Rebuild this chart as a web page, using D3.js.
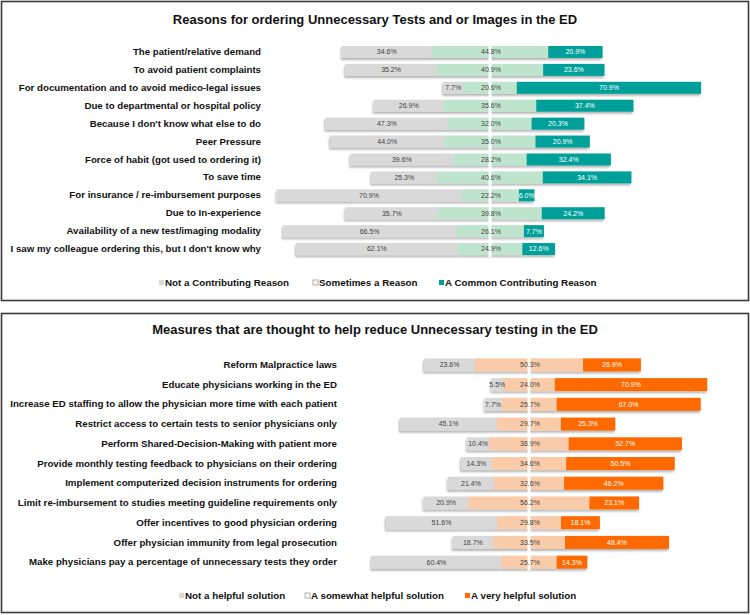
<!DOCTYPE html>
<html>
<head>
<meta charset="utf-8">
<script src="https://cdn.jsdelivr.net/npm/d3@7"></script>
<style>
  body { margin: 0; background: #fff; }
  svg { font-family: "Liberation Sans", Arial, sans-serif; }
</style>
</head>
<body>
<svg id="drawing_region"></svg>
<script>
// ---- data: panel 1 ----
const reasons = [
    "The patient/relative demand",
    "To avoid patient complaints",
    "For documentation and to avoid medico-legal issues",
    "Due to departmental or hospital policy",
    "Because I don't know what else to do",
    "Peer Pressure",
    "Force of habit (got used to ordering it)",
    "To save time",
    "For insurance / re-imbursement purposes",
    "Due to In-experience",
    "Availability of a new test/imaging modality",
    "I saw my colleague ordering this, but I don't know why"
];
const notReason       = [34.6, 35.2, 7.7, 26.9, 47.3, 44.0, 39.6, 25.3, 70.9, 35.7, 66.5, 62.1];
const sometimesReason = [44.8, 40.9, 20.6, 35.6, 32.0, 35.0, 28.2, 40.6, 22.2, 39.8, 26.1, 24.9];
const commonReason    = [20.9, 23.6, 70.9, 37.4, 20.3, 20.9, 32.4, 34.1, 6.0, 24.2, 7.7, 12.6];
const reasonLegend = ["Not a Contributing Reason", "Sometimes a Reason", "A Common Contributing Reason"];

// ---- data: panel 2 ----
const measures = [
    "Reform Malpractice laws",
    "Educate physicians working in the ED",
    "Increase ED staffing to allow the physician more time with each patient",
    "Restrict access to certain tests to senior physicians only",
    "Perform Shared-Decision-Making with patient more",
    "Provide monthly testing feedback to physicians on their ordering",
    "Implement computerized decision instruments for ordering",
    "Limit re-imbursement to studies meeting guideline requirements only",
    "Offer incentives to good physician ordering",
    "Offer physician immunity from legal prosecution",
    "Make physicians pay a percentage of unnecessary tests they order"
];
const notHelpful      = [23.6, 5.5, 7.7, 45.1, 10.4, 14.3, 21.4, 20.9, 51.6, 18.7, 60.4];
const somewhatHelpful = [50.3, 24.0, 25.7, 29.7, 36.9, 34.6, 32.6, 56.2, 29.8, 33.5, 25.7];
const veryHelpful     = [26.9, 70.9, 67.0, 25.3, 52.7, 50.5, 46.2, 23.1, 18.1, 48.4, 14.3];
const measureLegend = ["Not a helpful solution", "A somewhat helpful solution", "A very helpful solution"];

const svg = d3.select('#drawing_region')
    .attr('width', 750)
    .attr('height', 615);

const defs = svg.append('defs');
defs.append('filter')
    .attr('id', 'shadow')
    .attr('x', '-10%').attr('y', '-30%')
    .attr('width', '120%').attr('height', '180%')
    .append('feDropShadow')
    .attr('dx', -1).attr('dy', 2)
    .attr('stdDeviation', 0.8)
    .attr('flood-color', '#000')
    .attr('flood-opacity', 0.3);

function drawPanel(cfg) {
    const g = svg.append('g');

    // frame
    g.append('rect')
        .attr('x', cfg.box[0]).attr('y', cfg.box[1])
        .attr('width', cfg.box[2]).attr('height', cfg.box[3])
        .attr('fill', '#fff')
        .attr('stroke', '#3a3a3a')
        .attr('stroke-width', 1.6);

    g.append('text')
        .attr('x', 375)
        .attr('y', cfg.titleY)
        .attr('text-anchor', 'middle')
        .attr('font-size', '13px')
        .attr('font-weight', 'bold')
        .attr('fill', '#111')
        .text(cfg.title);

    const yscale = d3.scaleBand()
        .domain(cfg.cats)
        .range(cfg.yRange)
        .paddingInner(cfg.pad)
        .paddingOuter(cfg.pad / 2);

    const xscale = d3.scaleLinear()
        .domain([-100, 100])
        .range([cfg.center - 100 * cfg.k, cfg.center + 100 * cfg.k]);

    // category labels
    const yaxis = d3.axisLeft(yscale).tickSize(0).tickPadding(0);
    const axisG = g.append('g')
        .attr('transform', `translate(${cfg.labelX},0)`)
        .call(yaxis);
    axisG.select('.domain').remove();
    axisG.selectAll('text')
        .attr('font-family', '"Liberation Sans", Arial, sans-serif')
        .attr('font-size', '9.7px')
        .attr('font-weight', 'bold')
        .attr('fill', '#111');

    const rows = cfg.cats.map((c, i) => ({
        cat: c, a: cfg.s1[i], b: cfg.s2[i], c3: cfg.s3[i]
    }));

    const segs = [];
    rows.forEach(d => {
        segs.push({cat: d.cat, x0: -d.b / 2 - d.a, x1: -d.b / 2, v: d.a, k: 0});
        segs.push({cat: d.cat, x0: -d.b / 2, x1: d.b / 2, v: d.b, k: 1});
        segs.push({cat: d.cat, x0: d.b / 2, x1: d.b / 2 + d.c3, v: d.c3, k: 2});
    });

    const rowG = g.append('g').selectAll('g')
        .data(rows)
        .join('g')
        .attr('filter', 'url(#shadow)');

    rowG.selectAll('rect')
        .data(d => segs.filter(s => s.cat === d.cat))
        .join('rect')
        .attr('x', s => xscale(s.x0))
        .attr('y', s => yscale(s.cat))
        .attr('width', s => xscale(s.x1) - xscale(s.x0))
        .attr('height', yscale.bandwidth())
        .attr('fill', s => cfg.colors[s.k]);

    // center line
    g.append('line')
        .attr('x1', xscale(0)).attr('x2', xscale(0))
        .attr('y1', yscale(cfg.cats[0]) - 2)
        .attr('y2', yscale(cfg.cats[cfg.cats.length - 1]) + yscale.bandwidth() + 2)
        .attr('stroke', '#fff')
        .attr('stroke-width', 3);

    g.append('g').selectAll('text')
        .data(segs)
        .join('text')
        .attr('x', s => s.k === 1 ? xscale(0) + 1 : xscale((s.x0 + s.x1) / 2))
        .attr('y', s => yscale(s.cat) + yscale.bandwidth() / 2)
        .attr('dy', '0.35em')
        .attr('text-anchor', 'middle')
        .attr('font-size', '7px')
        .attr('fill', s => s.k === 2 ? '#fff' : '#444')
        .text(s => s.v.toFixed(1) + '%');

    // legend
    const leg = g.append('g').selectAll('g')
        .data(cfg.legend)
        .join('g')
        .attr('transform', (d, i) => `translate(${cfg.legendX[i]},${cfg.legendY})`);
    leg.append('rect')
        .attr('x', -6).attr('y', -3)
        .attr('width', 5).attr('height', 5)
        .attr('fill', (d, i) => i === 1 ? '#fff' : cfg.colors[i])
        .attr('stroke', (d, i) => i === 1 ? '#999' : 'none')
        .attr('stroke-width', 0.8);
    leg.append('text')
        .attr('x', 0)
        .attr('y', 0)
        .attr('dy', '0.35em')
        .attr('font-size', '9.8px')
        .attr('font-weight', 'bold')
        .attr('fill', '#111')
        .text(d => d);
}

drawPanel({
    box: [1.5, 1.5, 747, 299],
    title: "Reasons for ordering Unnecessary Tests and or Images in the ED",
    titleY: 24,
    cats: reasons, s1: notReason, s2: sometimesReason, s3: commonReason,
    yRange: [43, 258],
    pad: 0.33,
    center: 490, k: 2.6,
    labelX: 261,
    colors: ['#d9d9d9', '#bfe4cd', '#00a09a'],
    legend: reasonLegend,
    legendX: [165, 319, 445],
    legendY: 283
});

drawPanel({
    box: [1.5, 313.5, 747, 299],
    title: "Measures that are thought to help reduce Unnecessary testing in the ED",
    titleY: 334,
    cats: measures, s1: notHelpful, s2: somewhatHelpful, s3: veryHelpful,
    yRange: [355, 572],
    pad: 0.34,
    center: 529, k: 2.15,
    labelX: 337,
    colors: ['#d9d9d9', '#f9cba8', '#ff6a00'],
    legend: measureLegend,
    legendX: [185, 311, 471],
    legendY: 596
});
</script>
</body>
</html>
